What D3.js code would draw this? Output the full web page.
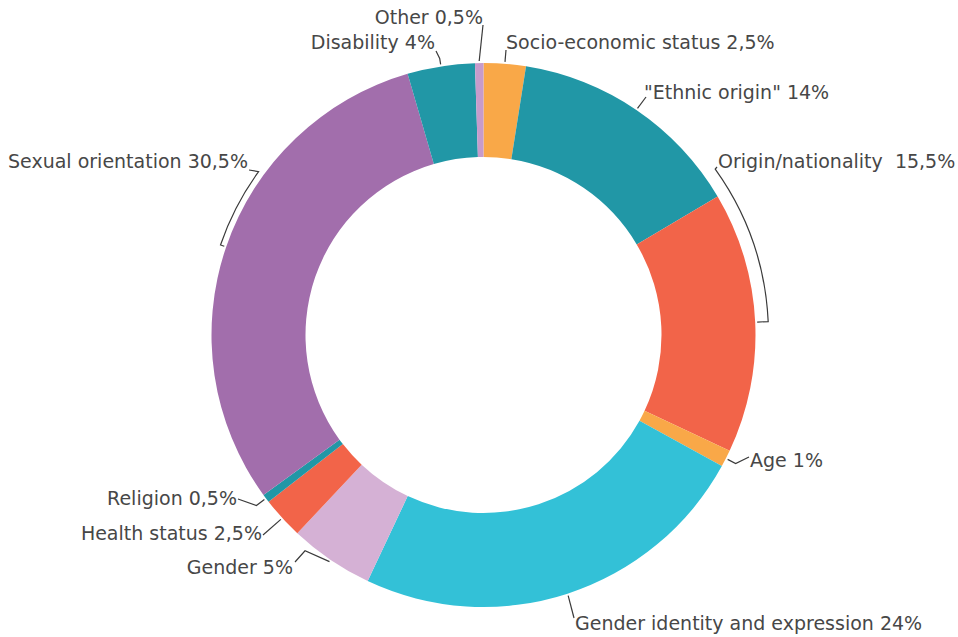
<!DOCTYPE html>
<html>
<head>
<meta charset="utf-8">
<script src="https://cdn.jsdelivr.net/npm/d3@7"></script>
<style>
  html, body { margin: 0; padding: 0; background: #ffffff; }
  svg { display: block; }
  .label { font-family: "DejaVu Sans", sans-serif; font-size: 19px; fill: #474747; white-space: pre; }
  .leader { fill: none; stroke: #3a3a3a; stroke-width: 1.2; }
</style>
</head>
<body>
<svg id="chart" width="958" height="637"></svg>
<script>
// Reported grounds, clockwise from 12 o'clock
const categories = [
  "Socio-economic status", "\"Ethnic origin\"", "Origin/nationality ", "Age",
  "Gender identity and expression", "Gender", "Health status", "Religion",
  "Sexual orientation", "Disability", "Other"
];
const shares = [2.5, 14, 15.5, 1, 24, 5, 2.5, 0.5, 30.5, 4, 0.5];
const colors = [
  "#F9A848", "#2197A6", "#F26449", "#F9A848",
  "#33C1D7", "#D5B1D5", "#F26449", "#2197A6",
  "#A26EAC", "#2197A6", "#C79BCB"
];

// Label placement and leader routing (angles in degrees clockwise from top)
const labelLayout = [
  { x: 506, y: 49,  anchor: "start", end: [0, 1] },
  { x: 644, y: 99,  anchor: "start", end: [2, -2] },
  { x: 718, y: 168, anchor: "start", via: [{ r: 285 }, { arcTo: 54.4 }], end: [-1, -1] },
  { x: 750, y: 467, anchor: "start", via: [{ r: 283 }], end: [-1, -10] },
  { x: 575, y: 630, anchor: "start", end: [-1, -12] },
  { x: 293, y: 574, anchor: "end",   via: [{ a: 219.6, r: 280 }], end: [2, -12] },
  { x: 262, y: 540, anchor: "end",   end: [1, -5] },
  { x: 237, y: 505, anchor: "end",   via: [{ r: 284 }], end: [1, -6] },
  { x: 248, y: 168, anchor: "end",   via: [{ r: 278 }, { arcTo: 306 }], end: [1, 2] },
  { x: 435, y: 49,  anchor: "end",   via: [{ r: 280 }], end: [1, 2] },
  { x: 483, y: 24,  anchor: "end",   end: [0, 1] }
];

const width = 958, height = 637;
const cx = 483.5, cy = 335;
const innerR = 178, outerR = 272, leaderR = 274;

const fmt = d3.formatLocale({ decimal: ",", thousands: ".", grouping: [3], currency: ["", ""] }).format(".1~f");

const data = categories.map((c, i) => ({ name: c, value: shares[i], color: colors[i], layout: labelLayout[i] }));

const svg = d3.select("#chart");
const g = svg.append("g").attr("transform", `translate(${cx},${cy})`);

const pie = d3.pie().sort(null).value(d => d.value).startAngle(0).endAngle(2 * Math.PI);
const arc = d3.arc().innerRadius(innerR).outerRadius(outerR);
const arcs = pie(data);

g.selectAll("path.slice")
  .data(arcs)
  .join("path")
  .attr("class", "slice")
  .attr("d", arc)
  .attr("fill", d => d.data.color);

// Convert clockwise-from-top angle (radians) + radius to local x/y
const polar = (t, r) => [r * Math.sin(t), -r * Math.cos(t)];
const rad = deg => deg * Math.PI / 180;

const labels = svg.append("g");
const leaders = svg.append("g");

arcs.forEach(d => {
  const L = d.data.layout;
  labels.append("text")
    .attr("class", "label")
    .attr("x", L.x)
    .attr("y", L.y)
    .attr("text-anchor", L.anchor)
    .text(d.data.name + " " + fmt(d.data.value) + "%");

  // Leader starts at the slice's mid-angle, just outside the ring
  const t0 = (d.startAngle + d.endAngle) / 2;
  const p = d3.path();
  let t = t0, r = leaderR;
  let [x, y] = polar(t, r);
  p.moveTo(cx + x, cy + y);
  (L.via || []).forEach(v => {
    if (v.arcTo != null) {
      const t1 = rad(v.arcTo);
      p.arc(cx, cy, r, t - Math.PI / 2, t1 - Math.PI / 2, t1 < t);
      t = t1;
    } else {
      if (v.a != null) t = rad(v.a);
      r = v.r;
      [x, y] = polar(t, r);
      p.lineTo(cx + x, cy + y);
    }
  });
  p.lineTo(L.x + L.end[0], L.y + L.end[1]);
  leaders.append("path").attr("class", "leader").attr("d", p.toString());
});
</script>
</body>
</html>
